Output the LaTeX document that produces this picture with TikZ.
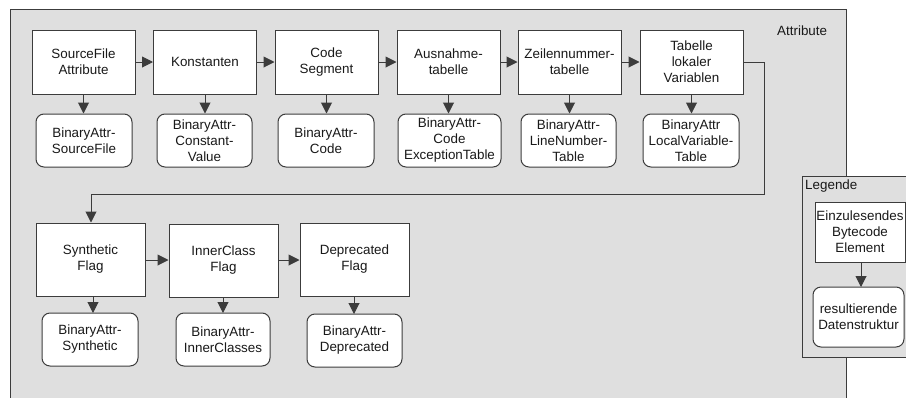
\documentclass[tikz,border=0pt]{standalone}
\usepackage{fontspec}
\setmainfont{Liberation Sans}
\usetikzlibrary{arrows.meta}
\definecolor{panel}{HTML}{DFDFDF}
\definecolor{edge}{HTML}{3C3C3C}
\tikzset{
  x=1pt, y=-1pt,
  every node/.style={font=\fontsize{13.4}{16}\selectfont, align=center, inner sep=0pt, text=black!90},
  elem/.style={draw=edge, line width=1pt, fill=white, minimum width=103pt, minimum height=64pt},
  data/.style={draw=edge, line width=1pt, fill=white, rounded corners=8pt, minimum height=53pt},
  flow/.style={draw=edge, line width=1pt, -{Triangle[length=11pt,width=11pt]}},
  frame/.style={draw=edge, line width=1pt, fill=panel}
}
\begin{document}
\begin{tikzpicture}
\useasboundingbox (0,0) rectangle (906,397);
\clip (0,0) rectangle (906,397);
% outer panel and legend panel
\draw[frame] (10,9) rectangle (846,405);
\node[anchor=north west] (attr) at (777,26) {Attribute};
\draw[frame] (802,176) rectangle (912,357);
\node[anchor=north west] (leg) at (805,180) {Legende};

% first row of elements
\node[elem] (sf)  at (83.5,62)  {SourceFile\\Attribute};
\node[elem] (ko)  at (205,62)   {Konstanten};
\node[elem] (cs)  at (326.5,62) {Code\\Segment};
\node[elem] (au)  at (448.5,62) {Ausnahme-\\tabelle};
\node[elem] (ze)  at (569.5,62) {Zeilennummer-\\tabelle};
\node[elem] (tl)  at (691.5,62) {Tabelle\\lokaler\\Variablen};

\node[data, minimum width=96pt]  (sfd) at (84,140.5)    {BinaryAttr-\\SourceFile};
\node[data, minimum width=95pt]  (kod) at (204.5,140.5) {BinaryAttr-\\Constant-\\Value};
\node[data, minimum width=96pt]  (csd) at (326,140.5)   {BinaryAttr-\\Code};
\node[data, minimum width=103pt] (aud) at (449.5,140.5) {BinaryAttr-\\Code\\ExceptionTable};
\node[data, minimum width=95pt]  (zed) at (568.5,140.5) {BinaryAttr-\\LineNumber-\\Table};
\node[data, minimum width=96pt]  (tld) at (691,140.5)   {BinaryAttr\\LocalVariable-\\Table};

% second row of elements
\node[elem, minimum width=109pt, minimum height=73pt] (sy) at (90.5,259.5)  {Synthetic\\Flag};
\node[elem, minimum width=109pt, minimum height=73pt] (ic) at (223.5,260.5) {InnerClass\\Flag};
\node[elem, minimum width=109pt, minimum height=73pt] (de) at (354.5,259.5) {Deprecated\\Flag};

\node[data, minimum width=96pt] (syd) at (90,339.5)    {BinaryAttr-\\Synthetic};
\node[data, minimum width=94pt] (icd) at (223,339.5)   {BinaryAttr-\\InnerClasses};
\node[data, minimum width=95pt] (ded) at (354.5,340.5) {BinaryAttr-\\Deprecated};

% legend
\node[elem, minimum width=90pt, minimum height=60pt] (le) at (860,232) {Einzulesendes\\Bytecode\\Element};
\node[data, minimum width=91pt, minimum height=60pt] (ld) at (858.5,317) {resultierende\\Datenstruktur};

% sequence of elements
\draw[flow] (sf) -- (ko);
\draw[flow] (ko) -- (cs);
\draw[flow] (cs) -- (au);
\draw[flow] (au) -- (ze);
\draw[flow] (ze) -- (tl);
\coordinate (wrapA) at (764,62);
\coordinate (wrapB) at (91,194);
\draw[flow] (tl.east) -- (wrapA) |- (wrapB) -- (wrapB |- sy.north);
\draw[flow] (sy.east |- 0,260) -- (ic.west |- 0,260);
\draw[flow] (ic.east |- 0,260) -- (de.west |- 0,260);

% resulting data structures
\foreach \a/\b in {sf/sfd, ko/kod, cs/csd, au/aud, ze/zed, tl/tld}
  \draw[flow] (\a.south) -- (\a.south |- \b.north);
\draw[flow] (93,296) -- (93,313);
\draw[flow] (223,297) -- (223,313);
\draw[flow] (354,296) -- (354,314);
\draw[flow] (le.south -| 861,0) -- (861,287);
\end{tikzpicture}
\end{document}
